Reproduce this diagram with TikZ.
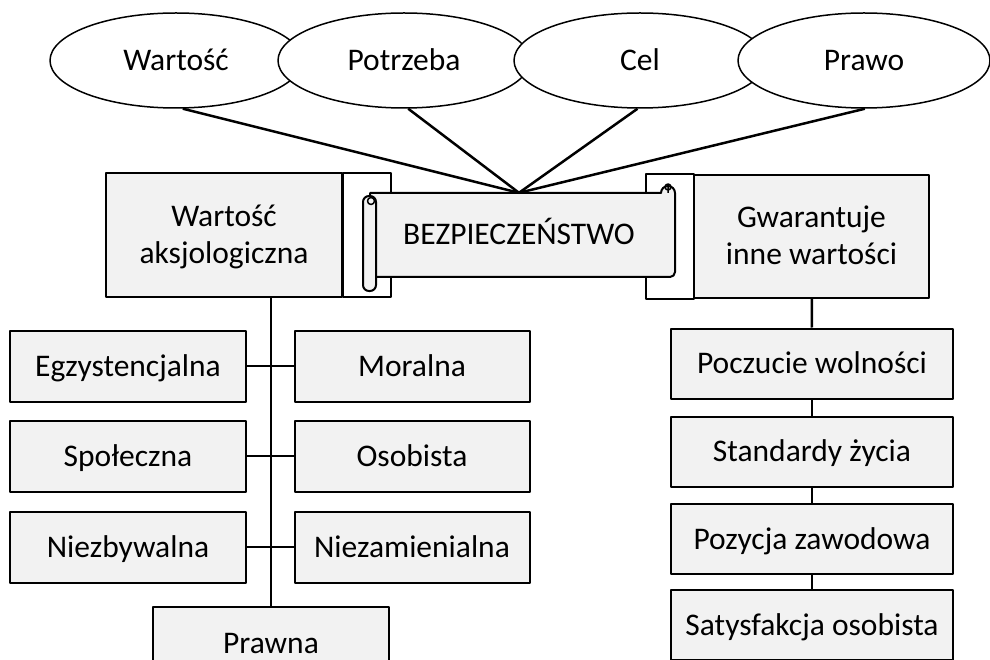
\documentclass[tikz,border=0pt]{standalone}
\usepackage{fontspec}
\setmainfont{Carlito}
\usetikzlibrary{shapes.geometric}
\definecolor{boxgray}{HTML}{F2F2F2}

\begin{document}
\begin{tikzpicture}[x=1pt,y=-1pt,line join=round]
  \tikzstyle{oval}=[ellipse,draw=black,line width=1.5pt,fill=white,minimum width=252pt,minimum height=95pt,inner sep=0pt,text height=26pt,text depth=6pt,font=\fontsize{31.5}{37}\selectfont]
  \tikzstyle{box}=[rectangle,draw=black,line width=2pt,fill=boxgray,minimum height=71pt,inner sep=0pt,align=center,text height=26pt,text depth=6pt,font=\fontsize{31.5}{37}\selectfont]
  \tikzstyle{twoline}=[text height=63pt,text depth=6pt]
  \tikzstyle{tab}=[rectangle,draw=black,line width=2pt,fill=white,minimum width=48pt,minimum height=124pt,inner sep=0pt]
  \tikzstyle{scroll}=[draw=black,line width=2pt,fill=boxgray]
  \tikzstyle{link}=[line width=2.5pt]

  \useasboundingbox (0,0) rectangle (990,660);
  \clip (0,0) rectangle (990,660);

  \foreach \name/\x/\txt in {1/176/Wartość, 2/404/Potrzeba, 3/640/Cel, 4/864/Prawo}
    \node[oval] (E-\name) at (\x,60.5) {\txt};

  \node[box,twoline,minimum width=236pt,minimum height=124pt] (A) at (224,235) {Wartość\\aksjologiczna};
  \node[tab] (A-tab) at (366.5,235) {};
  \node[tab] (C-tab) at (670,236.5) {};
  \node[box,twoline,minimum width=235pt,minimum height=123pt] (C) at (811.5,236.5) {Gwarantuje\\inne wartości};

  % scroll
  \path[scroll] (370,193) -- (661,193) arc[start angle=180,end angle=360,radius=7]
    -- (675,272) arc[start angle=0,end angle=90,radius=5] -- (370,277) -- cycle;
  \draw[line width=1.5pt] (668,187) circle[radius=3] (668,187) -- (668,193);
  \path[scroll,rounded corners=6pt] (363,196) rectangle (376,291);
  \draw[line width=1.5pt] (371,201) circle[radius=3.5];
  \node[minimum width=312pt,minimum height=84pt,inner sep=0pt,text height=26pt,text depth=6pt,font=\fontsize{31.5}{37}\selectfont] (B) at (519,235) {BEZPIECZEŃSTWO};

  \foreach \i/\angle in {1/-82, 2/-85, 3/-93, 4/-89}
    \draw[link] (E-\i.\angle) -- (B.north);

  \foreach \name/\y/\txt in {1/366/Egzystencjalna, 2/456/Społeczna, 3/547/Niezbywalna}
    \node[box,minimum width=236pt] (L-\name) at (128,\y) {\txt};
  \foreach \name/\y/\txt in {1/366/Moralna, 2/456/Osobista, 3/547/Niezamienialna}
    \node[box,minimum width=235pt] (M-\name) at (412,\y) {\txt};
  \node[box,minimum width=236pt,minimum height=72pt] (P) at (271,643) {Prawna};

  \draw[link] (P.north |- A.south) -- (P.north);
  \foreach \i in {1,2,3}
    \draw[link] (L-\i) -- (M-\i);

  \foreach \name/\y/\txt in {1/363.5/Poczucie wolności, 2/451.5/Standardy życia,
                             3/539/Pozycja zawodowa, 4/625/Satysfakcja osobista}
    \node[box,minimum width=282pt,minimum height=70pt] (R-\name) at (812,\y) {\txt};

  \draw[link] (C) -- (R-1);
  \foreach \from/\to in {1/2,2/3,3/4}
    \draw[link] (R-\from) -- (R-\to);

\end{tikzpicture}
\end{document}
